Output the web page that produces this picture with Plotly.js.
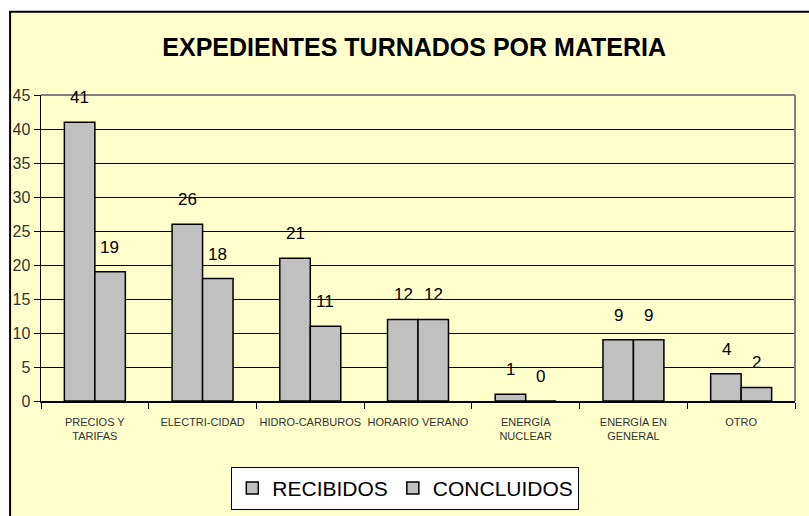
<!DOCTYPE html>
<html><head><meta charset="utf-8">
<script src="https://cdn.plot.ly/plotly-3.0.1.min.js"></script>
<style>html,body{margin:0;padding:0;background:#fff}</style>
</head><body><div id="chart" style="width:809px;height:516px"></div>
<script>
var categories = ["PRECIOS Y<br>TARIFAS","ELECTRI-CIDAD","HIDRO-CARBUROS","HORARIO VERANO","ENERGÍA<br>NUCLEAR","ENERGÍA EN<br>GENERAL","OTRO"];
var recibidos = [41,26,21,12,1,9,4];
var concluidos = [19,18,11,12,0,9,2];
var yTicks = [0,5,10,15,20,25,30,35,40,45];

var sans = "Liberation Sans, Arial, sans-serif";

var traces = [
  {type:'bar', name:'RECIBIDOS', x:categories, y:recibidos, marker:{color:'#C0C0C0', line:{color:'#000', width:1.5}}},
  {type:'bar', name:'CONCLUIDOS', x:categories, y:concluidos, marker:{color:'#C0C0C0', line:{color:'#000', width:1.5}}}
];

var annotations = [];
categories.forEach(function(c,i){
  annotations.push({x:c, y:recibidos[i], xref:'x', yref:'y', text:String(recibidos[i]), showarrow:false, yanchor:'bottom', xshift:-15, yshift:13, font:{family:sans,size:17,color:'#000'}});
  annotations.push({x:c, y:concluidos[i], xref:'x', yref:'y', text:String(concluidos[i]), showarrow:false, yanchor:'bottom', xshift:15, yshift:13, font:{family:sans,size:17,color:'#000'}});
});

var layout = {
  width:809, height:516,
  margin:{l:41, r:14, t:95, b:115},
  paper_bgcolor:'#FFFFFF',
  plot_bgcolor:'#CCFFFF',
  title:{text:'<b>EXPEDIENTES TURNADOS POR MATERIA</b>', x:0.512, xanchor:'center', y:0.908, yanchor:'middle', font:{family:sans, size:25, color:'#000'}},
  barmode:'group', bargap:0.434, bargroupgap:0,
  showlegend:true,
  legend:{orientation:'h', xref:'container', yref:'container', x:0.501, xanchor:'center', y:0.012, yanchor:'bottom', bgcolor:'#FFFFFF', bordercolor:'#000', borderwidth:1, font:{family:sans,size:21,color:'#000'}, itemwidth:30, traceorder:'normal'},
  xaxis:{type:'category', tickson:'boundaries', ticks:'outside', ticklen:6, tickcolor:'#000', tickangle:0, ticklabelstandoff:10, showline:true, linecolor:'#000', linewidth:1.5, showgrid:false, tickfont:{family:sans, size:11, color:'#333'}, fixedrange:true},
  yaxis:{range:[0,45], tickvals:yTicks, ticktext:yTicks.map(String), ticks:'outside', ticklen:6, tickcolor:'#000', showline:true, linecolor:'#000', linewidth:1.5, showgrid:true, gridcolor:'#000', gridwidth:1, zeroline:false, tickfont:{family:sans, size:16, color:'#333'}, fixedrange:true},
  annotations:annotations,
  shapes:[
    {type:'rect', xref:'paper', yref:'paper', x0:-0.041, x1:1.1, y0:-0.5, y1:1.272, fillcolor:'#FFFFCC', line:{color:'#000', width:2}, layer:'below'},
    {type:'line', xref:'paper', yref:'paper', x0:0, x1:1, y0:1, y1:1, line:{color:'#808080', width:2}},
    {type:'line', xref:'paper', yref:'paper', x0:1, x1:1, y0:0, y1:1, line:{color:'#808080', width:2}}
  ]
};
Plotly.newPlot('chart', traces, layout, {displayModeBar:false, staticPlot:true});
</script></body></html>
